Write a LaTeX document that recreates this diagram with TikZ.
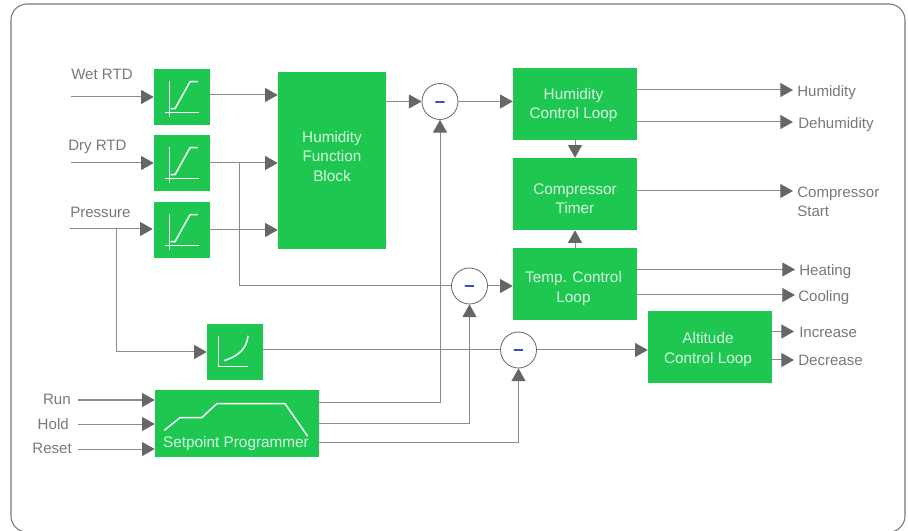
\documentclass[tikz,border=0pt]{standalone}
\usepackage{fontspec}
\setmainfont{Liberation Sans}
\usetikzlibrary{arrows.meta}
\usetikzlibrary{positioning}

\definecolor{boxgreen}{HTML}{1EC850}
\definecolor{boxtext}{HTML}{D8F8E2}
\definecolor{wiregray}{HTML}{8A8A8A}
\definecolor{tipgray}{HTML}{666666}
\definecolor{labelgray}{HTML}{787878}
\definecolor{minusblue}{HTML}{2B45A5}

\newcommand{\minussign}{\smash{\raisebox{-4.2pt}{--}}}

\tikzset{
  block/.style={fill=boxgreen, inner sep=0pt},
  blocktxt/.style={text=boxtext, inner sep=0pt, align=center, font=\fontsize{11.5pt}{14.4pt}\selectfont},
  shaper/.style={block, minimum width=42pt, minimum height=42pt},
  loopbox/.style={block, minimum width=93pt, minimum height=54pt},
  summer/.style={circle, draw=tipgray, line width=.6pt, fill=white, minimum size=27pt, inner sep=0pt, text=minusblue, font=\fontsize{14pt}{14pt}\selectfont\bfseries},
  wire/.style={->, draw=wiregray, line width=.75pt},
  plainwire/.style={draw=wiregray, line width=.75pt},
  sig/.style={anchor=west, inner sep=0pt, text=labelgray, align=left, font=\fontsize{11.3pt}{14.4pt}\selectfont},
  sigleft/.style={sig, anchor=east},
  glyph/.style={draw=white, line width=1.1pt},
  rampsym/.pic={
    \draw[glyph] (-12.7,-16) -- (-12.7,19.7);
    \draw[glyph] (-17,15.3) -- (17,15.3);
    \draw[glyph] (-11.3,11.7) -- (-7,11.7) -- (8,-15.3) -- (15.7,-15.3);
  },
  curvesym/.pic={
    \draw[glyph] (-16.7,-16.3) -- (-16.7,14.7) -- (13.3,14.7);
    \draw[glyph] (-11,8.7) .. controls (4,4) and (12,-4) .. (13,-16.3);
  }
}

\begin{document}
\begin{tikzpicture}[x=.75pt, y=-.75pt, >={Triangle[length=9.5pt,width=10.5pt,color=tipgray]}]
  \useasboundingbox (0,0) rectangle (908,531);
  \draw[labelgray, line width=.8pt, rounded corners=12pt] (11,4) rectangle (905,532);

  % sensors and function block
  \node[shaper] (wet) at (182,97) {};
  \node[shaper] (dry) at (182,163) {};
  \node[shaper] (press) at (182,230) {};
  \node[shaper] (alt) at (235,352) {};
  \pic at (wet) {rampsym};
  \pic at (dry) {rampsym};
  \pic at (press) {rampsym};
  \pic at (alt) {curvesym};
  \node[block, minimum width=81pt, minimum height=132.75pt] (hfb) at (332,160.5) {};
  \node[blocktxt] (hfbtxt) at (332,156.5) {Humidity\\Function\\Block};

  % setpoint programmer
  \node[block, minimum width=123pt, minimum height=50.25pt] (prog) at (237,423.5) {};
  \node[blocktxt] (progtxt) at (236,444) {Setpoint Programmer};
  \draw[glyph] (164.3,430.3) -- (180,417.7) -- (201.7,417.7) -- (216.7,403.7) -- (285,403.7) -- (307.7,436.3);

  % summing points
  \node[summer] (sumhum) at (440,101.5) {\minussign};
  \node[summer] (sumtemp) at (469.5,286) {\minussign};
  \node[summer] (sumalt) at (518.5,350) {\minussign};

  % control loops
  \node[loopbox] (hcl) at (575,104) {};
  \node[loopbox] (timer) at (575,194) {};
  \node[loopbox] (tcl) at (575,284) {};
  \node[loopbox] (acl) at (710,347) {};
  \node[blocktxt] (hcltxt) at (573.5,105) {Humidity\\Control Loop};
  \node[blocktxt] (timertxt) at (575,199) {Compressor\\Timer};
  \node[blocktxt] (tcltxt) at (573.5,288.5) {Temp. Control\\Loop};
  \node[blocktxt] (acltxt) at (708,349.5) {Altitude\\Control Loop};

  % input labels
  \node[sig] (wettxt) at (71,74) {Wet RTD};
  \node[sig] (drytxt) at (68,146.5) {Dry RTD};
  \node[sig] (presstxt) at (70,212.5) {Pressure};
  \node[sigleft] (runtxt) at (71,399.5) {Run};
  \node[sigleft] (holdtxt) at (69,424) {Hold};
  \node[sigleft] (resettxt) at (72,448.5) {Reset};

  % free ends of the inputs
  \coordinate (wetin) at (71,97);
  \coordinate (dryin) at (71,163);
  \coordinate (pressin) at (70,229);
  \coordinate (runin) at (78,400);
  \coordinate (holdin) at (78,424);
  \coordinate (resetin) at (78,449);

  \draw[wire] (wetin) -- (wet.west);
  \draw[wire] (dryin) -- (dry.west);
  \draw[wire] (pressin) -- ([xshift=-.75pt,yshift=.75pt]press.west);
  \draw[wire] (runin) -- (prog.west |- runin);
  \draw[wire] (holdin) -- (prog.west |- holdin);
  \draw[wire] (resetin) -- (prog.west |- resetin);

  % into the function block
  \draw[wire] ([yshift=1.5pt]wet.east) -- ([yshift=1.5pt]wet.east -| hfb.west);
  \draw[wire] (dry.east) -- (dry.east -| hfb.west);
  \draw[wire] (press.east) -- (press.east -| hfb.west);
  \draw[wire] (hfb.east |- sumhum.west) -- (sumhum.west);
  \draw[wire] (sumhum.east) -- (sumhum.east -| hcl.west);

  % branches
  \coordinate (drybranch) at (239,163);
  \coordinate (pressbranch) at (116,229);
  \draw[plainwire] (drybranch) -- (drybranch |- sumtemp.west) -- (sumtemp.west);
  \draw[wire] (pressbranch) -- (pressbranch |- alt.west) -- (alt.west);
  \draw[plainwire] (alt.east |- sumalt.west) -- (sumalt.west);

  % setpoints
  \coordinate (spone) at (319,402);
  \coordinate (sptwo) at (319,423);
  \coordinate (spthree) at (319,442);
  \draw[wire] (spone) -- (spone -| sumhum.south) -- (sumhum.south);
  \draw[wire] (sptwo) -- (sptwo -| sumtemp.south) -- (sumtemp.south);
  \draw[wire] (spthree) -- (spthree -| sumalt.south) -- (sumalt.south);

  \draw[wire] (sumtemp.east) -- (sumtemp.east -| tcl.west);
  \draw[wire] (sumalt.east) -- (sumalt.east -| acl.west);
  \draw[wire] (hcl) -- (timer);
  \draw[wire] (tcl) -- (timer);

  % outputs
  \coordinate (humout) at (793,90);
  \coordinate (dehumout) at (793,122);
  \coordinate (compout) at (793,191);
  \coordinate (heatout) at (795,269.5);
  \coordinate (coolout) at (795,295);
  \coordinate (incout) at (794,331.5);
  \coordinate (decout) at (794,360);

  \draw[wire] (hcl.east |- humout) -- (humout);
  \draw[wire] (hcl.east |- dehumout) -- (dehumout);
  \draw[wire] (timer.east |- compout) -- (compout);
  \draw[wire] (tcl.east |- heatout) -- (heatout);
  \draw[wire] (tcl.east |- coolout) -- (coolout);
  \draw[wire] (acl.east |- incout) -- (incout);
  \draw[wire] (acl.east |- decout) -- (decout);

  \node[sig] (humtxt) at (797,92.5) {Humidity};
  \node[sig] (dehumtxt) at (798,124.5) {Dehumidity};
  \node[sig] (comptxt) at (797,202) {Compressor\\Start};
  \node[sig] (heattxt) at (799,271.5) {Heating};
  \node[sig] (cooltxt) at (798,297.5) {Cooling};
  \node[sig] (inctxt) at (799,332.5) {Increase};
  \node[sig] (dectxt) at (798,360.5) {Decrease};
\end{tikzpicture}
\end{document}
